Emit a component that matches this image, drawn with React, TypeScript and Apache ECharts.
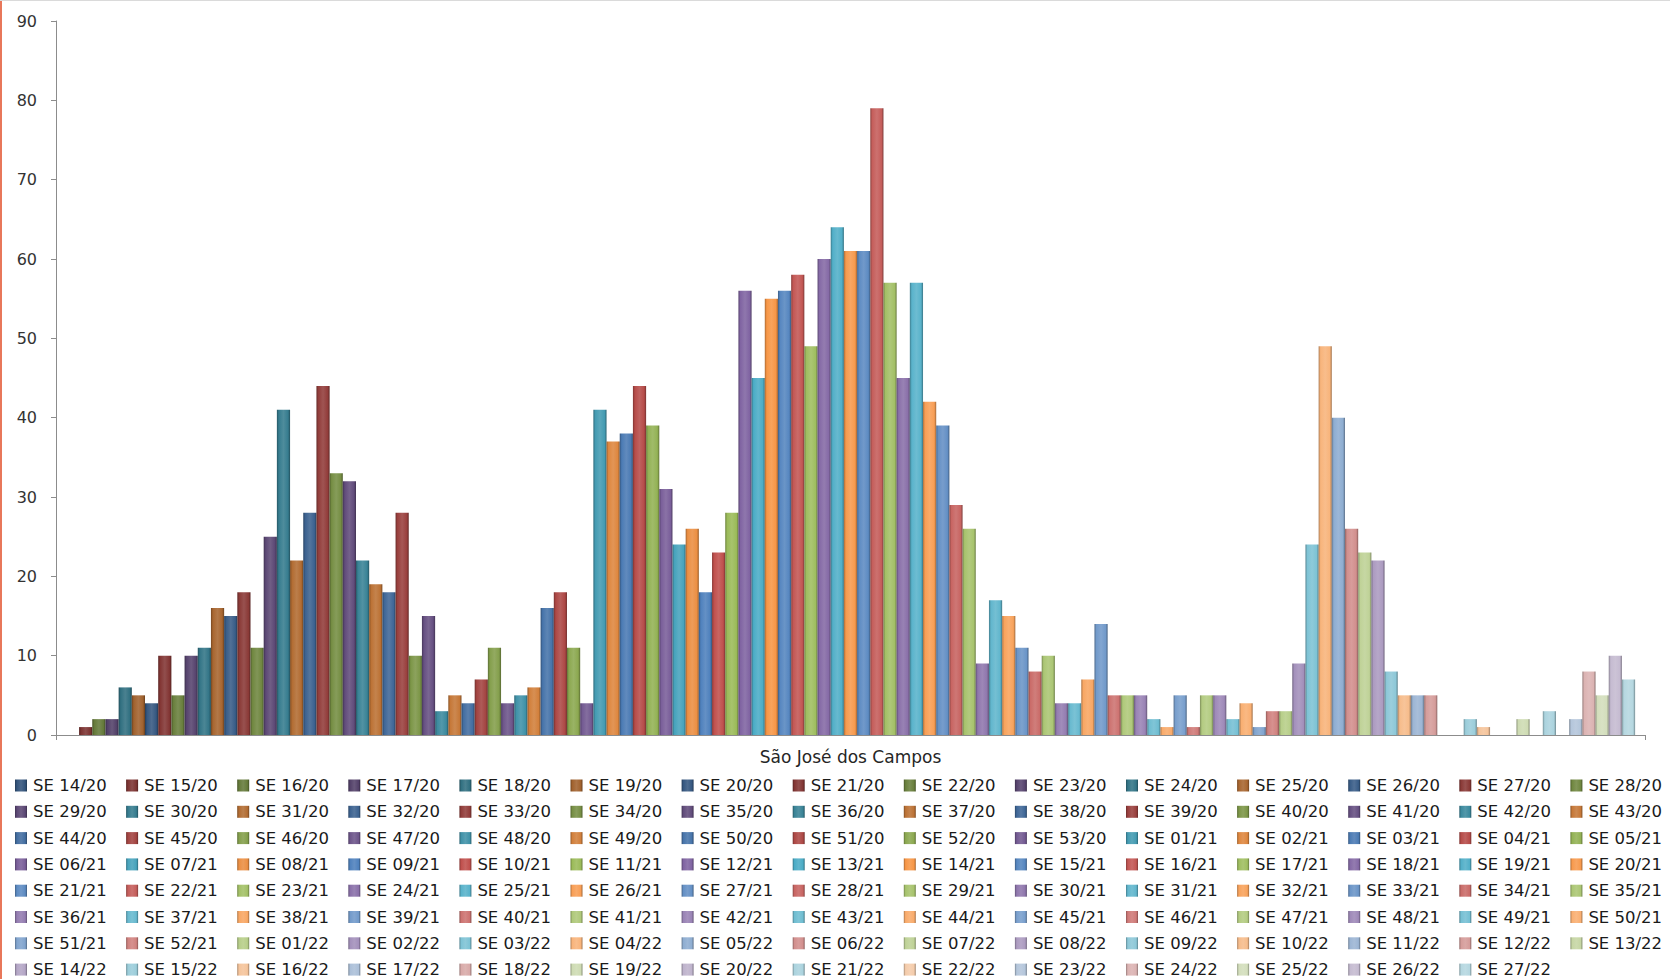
import React, { useEffect, useRef } from 'react';
import * as echarts from 'echarts';

// ---- Data ----
const CATEGORY = ['São José dos Campos'];

// epidemiological weeks per year (labels)
const WEEKS_2020 = ['14','15','16','17','18','19','20','21','22','23','24','25','26','27','28','29','30','31','32','33','34','35','36','37','38','39','40','41','42','43','44','45','46','47','48','49','50','51','52','53'];
const WEEKS_2021 = ['01','02','03','04','05','06','07','08','09','10','11','12','13','14','15','16','17','18','19','20','21','22','23','24','25','26','27','28','29','30','31','32','33','34','35','36','37','38','39','40','41','42','43','44','45','46','47','48','49','50','51','52'];
const WEEKS_2022 = ['01','02','03','04','05','06','07','08','09','10','11','12','13','14','15','16','17','18','19','20','21','22','23','24','25','26','27'];

const CASES_2020 = [0,1,2,2,6,5,4,10,5,10,11,16,15,18,11,25,41,22,28,44,33,32,22,19,18,28,10,15,3,5,4,7,11,4,5,6,16,18,11,4];
const CASES_2021 = [41,37,38,44,39,31,24,26,18,23,28,56,45,55,56,58,49,60,64,61,61,79,57,45,57,42,39,29,26,9,17,15,11,8,10,4,4,7,14,5,5,5,2,1,5,1,5,5,2,4,1,3];
const CASES_2022 = [3,9,24,49,40,26,23,22,8,5,5,5,0,0,2,1,0,0,2,0,3,0,2,8,5,10,7];

const Y_TICKS = { min: 0, max: 90, interval: 10 };

// ---- Styles ----
const ACCENTS = ['#4F81BD', '#C0504D', '#9BBB59', '#8064A2', '#4BACC6', '#F79646'];
const SHADES = [-0.35, -0.32, -0.28, -0.24, -0.2, -0.15, -0.1, -0.05, 0, 0.04, 0.08, 0.12, 0.16, 0.2, 0.24, 0.28, 0.35, 0.42, 0.5, 0.55];
const LEGEND_COLS = 15;

function hexToRgb(h: string) {
  const v = parseInt(h.slice(1), 16);
  return [(v >> 16) & 255, (v >> 8) & 255, v & 255];
}
function rgbStr(c: number[]) {
  return `rgb(${c.map((x) => Math.max(0, Math.min(255, Math.round(x)))).join(',')})`;
}
function shadeRgb(c: number[], f: number) {
  if (f < 0) return c.map((x) => x * (1 + f));
  return c.map((x) => x + (255 - x) * f);
}
function seriesColor(i: number) {
  const base = hexToRgb(ACCENTS[i % 6]);
  const f = SHADES[Math.floor(i / 6)];
  let c = shadeRgb(base, f);
  const desat = Math.max(0, f - 0.25) * 0.7;
  if (desat > 0) {
    const g = 0.3 * c[0] + 0.59 * c[1] + 0.11 * c[2];
    c = c.map((x) => x + (g - x) * desat);
  }
  return c;
}
function barGradient(c: number[]) {
  return {
    type: 'linear',
    x: 0, y: 0, x2: 1, y2: 0,
    colorStops: [
      { offset: 0, color: rgbStr(shadeRgb(c, -0.3)) },
      { offset: 0.15, color: rgbStr(c) },
      { offset: 0.5, color: rgbStr(shadeRgb(c, 0.12)) },
      { offset: 0.85, color: rgbStr(c) },
      { offset: 1, color: rgbStr(shadeRgb(c, -0.35)) },
    ],
  };
}

const NAMES = [
  ...WEEKS_2020.map((w) => `SE ${w}/20`),
  ...WEEKS_2021.map((w) => `SE ${w}/21`),
  ...WEEKS_2022.map((w) => `SE ${w}/22`),
];
const VALUES = [...CASES_2020, ...CASES_2021, ...CASES_2022];

export default function App() {
  const ref = useRef<HTMLDivElement>(null);
  useEffect(() => {
    document.body.style.margin = '0';
    if (!ref.current) return;
    const chart = echarts.init(ref.current, null, { renderer: 'svg' });
    const series = NAMES.map((name, i) => {
      const col = seriesColor(i);
      return {
        type: 'bar',
        name,
        data: [VALUES[i]],
        barGap: '0%',
        barCategoryGap: '1.245%',
        itemStyle: { color: barGradient(col) as any },
        emphasis: { disabled: true },
      };
    });
    const legends = Array.from({ length: LEGEND_COLS }, (_, c) => ({
      data: NAMES.filter((_, i) => i % LEGEND_COLS === c),
      orient: 'vertical',
      left: 15 + c * 111.1,
      top: 777,
      padding: 0,
      icon: 'rect',
      itemWidth: 12,
      itemHeight: 12,
      itemGap: 9.3,
      selectedMode: false,
      textStyle: {
        fontFamily: 'DejaVu Sans',
        fontSize: 16.5,
        color: '#1a1a1a',
        padding: [0, 0, 0, 1],
      },
    }));
    chart.setOption({
      animation: false,
      backgroundColor: '#ffffff',
      grid: { left: 56, right: 25, top: 21, bottom: 244, containLabel: false },
      xAxis: {
        type: 'category',
        data: CATEGORY,
        axisLine: { show: true, lineStyle: { color: '#8c8c8c', width: 1 } },
        axisTick: { show: true, length: 5, lineStyle: { color: '#8c8c8c' } },
        axisLabel: { fontFamily: 'DejaVu Sans', fontSize: 17, color: '#262626', margin: 13 },
      },
      yAxis: {
        type: 'value',
        min: Y_TICKS.min,
        max: Y_TICKS.max,
        interval: Y_TICKS.interval,
        axisLine: { show: true, lineStyle: { color: '#8c8c8c', width: 1 } },
        axisTick: { show: true, length: 5, lineStyle: { color: '#8c8c8c' } },
        splitLine: { show: false },
        axisLabel: { fontFamily: 'DejaVu Sans', fontSize: 16, color: '#333333', margin: 19 },
      },
      legend: legends,
      graphic: [
        { type: 'rect', left: 0, top: 0, shape: { width: 2, height: 979 }, style: { fill: '#E8775A' } },
        { type: 'rect', left: 0, top: 0, shape: { width: 1670, height: 1 }, style: { fill: '#DADADA' } },
      ],
      series,
    });
    return () => chart.dispose();
  }, []);
  return <div ref={ref} style={{ width: 1670, height: 979 }} />;
}
